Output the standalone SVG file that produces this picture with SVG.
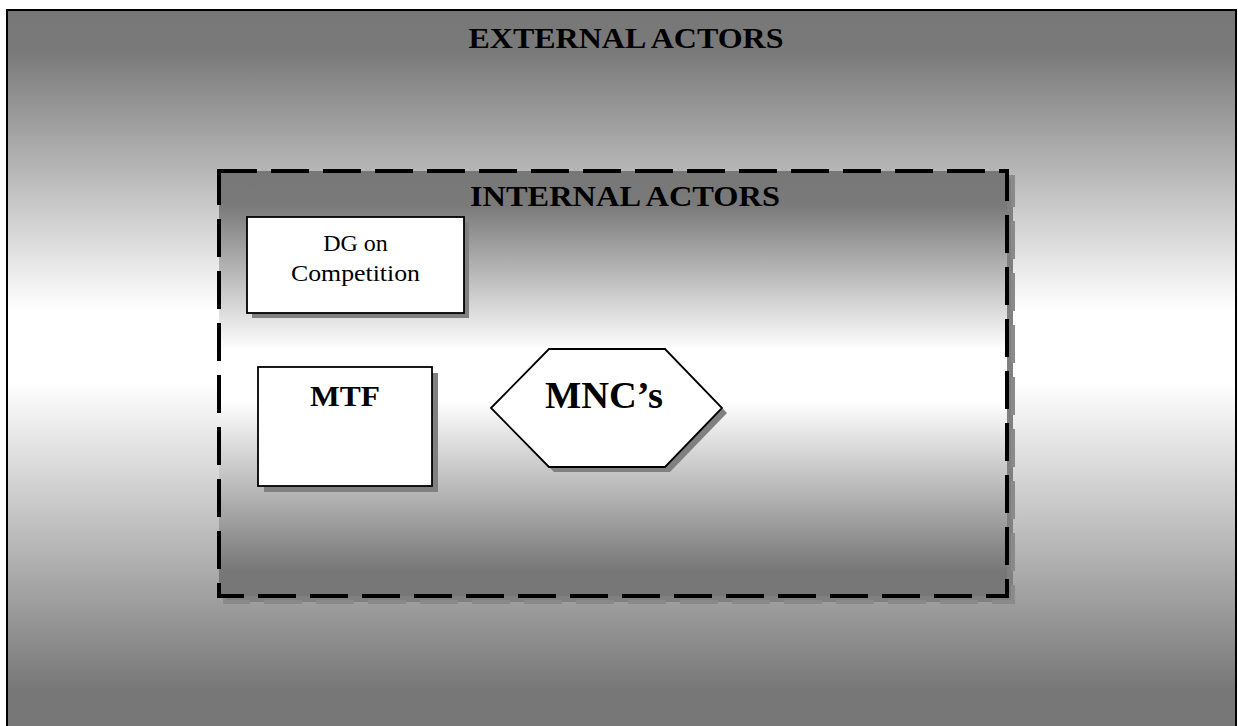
<svg xmlns="http://www.w3.org/2000/svg" width="1238" height="726" viewBox="0 0 1238 726">
  <defs>
    <linearGradient id="outerFill" gradientUnits="userSpaceOnUse" x1="0" y1="10" x2="0" y2="726">
      <stop offset="0" stop-color="#777777"/>
      <stop offset="0.06" stop-color="#7a7a7a"/>
      <stop offset="0.42" stop-color="#ffffff"/>
      <stop offset="0.52" stop-color="#ffffff"/>
      <stop offset="0.95" stop-color="#777777"/>
      <stop offset="1" stop-color="#777777"/>
    </linearGradient>
    <linearGradient id="innerFill" gradientUnits="userSpaceOnUse" x1="0" y1="172" x2="0" y2="596">
      <stop offset="0" stop-color="#777777"/>
      <stop offset="0.08" stop-color="#7a7a7a"/>
      <stop offset="0.42" stop-color="#ffffff"/>
      <stop offset="0.54" stop-color="#ffffff"/>
      <stop offset="0.94" stop-color="#777777"/>
      <stop offset="1" stop-color="#777777"/>
    </linearGradient>
  </defs>
  <style>
    text { font-family: "Liberation Serif", "Times New Roman", serif; fill: #000000; text-anchor: middle; }
    .title { font-weight: bold; font-size: 30px; }
    .label { font-size: 24px; }
    .mtf { font-weight: bold; font-size: 30px; }
    .hex { font-weight: bold; font-size: 37px; }
    .box { fill: #ffffff; stroke: #000000; stroke-width: 1.8; }
    .shadow { fill: #808080; stroke: none; }
    .dash { fill: url(#innerFill); stroke: #000000; stroke-width: 4; stroke-dasharray: 38 14; }
    .dashShadow { fill: #808080; stroke: #8a8a8a; stroke-width: 4; stroke-dasharray: 38 14; }
  </style>

  <!-- outer frame: external actors -->
  <g id="external-actors">
    <rect x="7" y="10" width="1229" height="722" fill="url(#outerFill)" stroke="#000000" stroke-width="2"/>
    <text class="title" x="626" y="48" textLength="315" lengthAdjust="spacingAndGlyphs">EXTERNAL ACTORS</text>
  </g>

  <!-- dashed frame: internal actors -->
  <g id="internal-actors">
    <rect class="dashShadow" x="225" y="177" width="788" height="425"/>
    <rect class="dash" x="219" y="171" width="788" height="425"/>
    <text class="title" x="625" y="206" textLength="310" lengthAdjust="spacingAndGlyphs">INTERNAL ACTORS</text>
  </g>

  <g id="dg-competition">
    <rect class="shadow" x="252" y="222" width="217" height="96"/>
    <rect class="box" x="247" y="217" width="217" height="96"/>
    <text class="label" x="355.5" y="251">DG on</text>
    <text class="label" x="355.5" y="281" textLength="129" lengthAdjust="spacingAndGlyphs">Competition</text>
  </g>

  <g id="mtf">
    <rect class="shadow" x="264" y="373" width="174" height="119"/>
    <rect class="box" x="258" y="367" width="174" height="119"/>
    <text class="mtf" x="345" y="406" textLength="70" lengthAdjust="spacingAndGlyphs">MTF</text>
  </g>

  <g id="mncs">
    <polygon class="shadow" points="496,413 554,354 670,354 727,413 670,472 554,472"/>
    <polygon class="box" points="491,408 549,349 665,349 722,408 665,467 549,467"/>
    <text class="hex" x="604" y="408" textLength="118" lengthAdjust="spacingAndGlyphs">MNC’s</text>
  </g>

  <g id="connectors"></g>
</svg>
